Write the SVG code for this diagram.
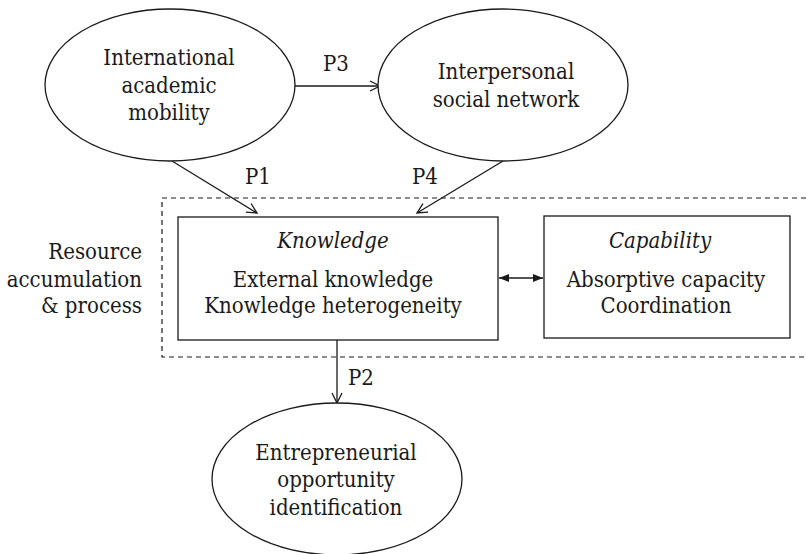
<svg xmlns="http://www.w3.org/2000/svg" width="806" height="554" viewBox="0 0 806 554">
  <style>
    .shape { fill: #ffffff; stroke: #1a1a1a; stroke-width: 1.3; }
    .line { fill: none; stroke: #1a1a1a; stroke-width: 1.3; }
    .dash { fill: none; stroke: #1a1a1a; stroke-width: 1.2; stroke-dasharray: 5 4; }
    .c { text-anchor: middle; }
    .r { text-anchor: end; }
    .it { font-style: italic; }
  </style>
  <defs>
    <marker id="open" viewBox="0 0 12 12" refX="11" refY="6" markerWidth="12" markerHeight="12" markerUnits="userSpaceOnUse" orient="auto">
      <path d="M1,1 L11,6 L1,11" fill="none" stroke="#1a1a1a" stroke-width="1.3"/>
    </marker>
    <marker id="solid" viewBox="0 0 10 8" refX="10" refY="4" markerWidth="10" markerHeight="8" markerUnits="userSpaceOnUse" orient="auto-start-reverse">
      <path d="M0,0 L10,4 L0,8 Z" fill="#1a1a1a"/>
    </marker>
  </defs>

  <g font-family="DejaVu Serif Condensed, DejaVu Serif, serif" font-size="22" fill="#1a1a1a">
    <!-- resource accumulation boundary -->
    <g id="resource-group">
      <rect class="dash" x="162" y="198" width="660" height="159"/>
      <text class="r" x="142" y="259">Resource</text>
      <text class="r" x="142" y="287">accumulation</text>
      <text class="r" x="142" y="313">&amp; process</text>
    </g>

    <g id="connectors">
      <line class="line" x1="295" y1="86" x2="380" y2="86" marker-end="url(#open)"/>
      <line class="line" x1="172" y1="161" x2="257" y2="213" marker-end="url(#open)"/>
      <line class="line" x1="503" y1="161" x2="417" y2="213" marker-end="url(#open)"/>
      <line class="line" x1="337" y1="340" x2="337" y2="403" marker-end="url(#open)"/>
      <line class="line" x1="499" y1="278" x2="543" y2="278" marker-start="url(#solid)" marker-end="url(#solid)"/>
      <text x="323" y="71">P3</text>
      <text x="245" y="184">P1</text>
      <text x="412" y="184">P4</text>
      <text x="348" y="385">P2</text>
    </g>

    <g id="mobility">
      <ellipse class="shape" cx="170" cy="85" rx="125" ry="76"/>
      <text class="c" x="169" y="65">International</text>
      <text class="c" x="169" y="93">academic</text>
      <text class="c" x="169" y="120">mobility</text>
    </g>

    <g id="network">
      <ellipse class="shape" cx="503" cy="85" rx="125" ry="76"/>
      <text class="c" x="506" y="79">Interpersonal</text>
      <text class="c" x="506" y="107">social network</text>
    </g>

    <g id="knowledge">
      <rect class="shape" x="178" y="217" width="320" height="123"/>
      <text class="c it" x="333" y="248">Knowledge</text>
      <text class="c" x="333" y="287">External knowledge</text>
      <text class="c" x="333" y="313">Knowledge heterogeneity</text>
    </g>

    <g id="capability">
      <rect class="shape" x="544" y="216" width="246" height="122"/>
      <text class="c it" x="660" y="248">Capability</text>
      <text class="c" x="666" y="287">Absorptive capacity</text>
      <text class="c" x="666" y="313">Coordination</text>
    </g>

    <g id="opportunity">
      <ellipse class="shape" cx="337" cy="479" rx="125" ry="76"/>
      <text class="c" x="336" y="460">Entrepreneurial</text>
      <text class="c" x="336" y="487">opportunity</text>
      <text class="c" x="336" y="515">identification</text>
    </g>
  </g>
</svg>
